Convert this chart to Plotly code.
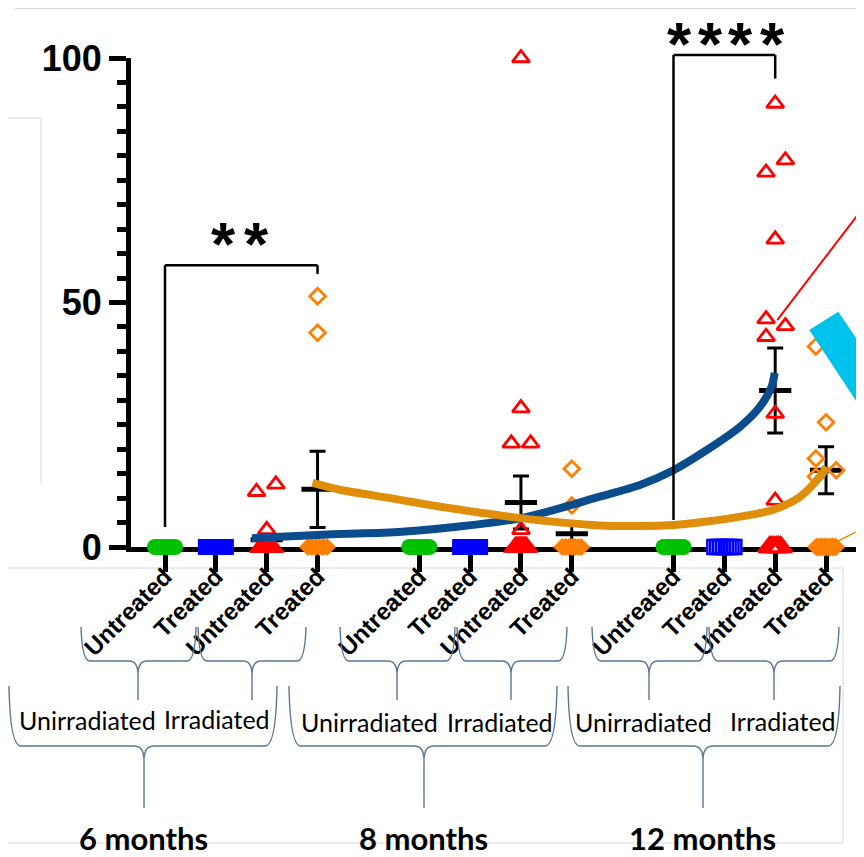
import plotly.graph_objects as go
import numpy as np

# ---------------- data ----------------
timepoints = ["6 months", "8 months", "12 months"]
irradiation = ["Unirradiated", "Irradiated"]
treatments = ["Untreated", "Treated"]

# Unirradiated / Untreated (green)
unirr_untreated_6m = [0, 0, 0, 0, 0, 0, 0, 0]
unirr_untreated_8m = [0, 0, 0, 0, 0, 0, 0, 0]
unirr_untreated_12m = [0, 0, 0, 0, 0, 0, 0, 0]
# Unirradiated / Treated (blue)
unirr_treated_6m = [0, 0, 0, 0, 0, 0, 0, 0]
unirr_treated_8m = [0, 0, 0, 0, 0, 0, 0, 0]
unirr_treated_12m = [0, 0, 0, 0, 0, 0, 0, 0]
# Irradiated / Untreated (red)
irr_untreated_6m = [12.8, 11.3, 3.5, 0, 0, 0, 0, 0, 0, 0, 0, 0, 0, 0, 0, 0, 0, 0]
irr_untreated_8m = [100, 28.4, 21.2, 21.2, 3.5, 0, 0, 0, 0, 0, 0, 0, 0, 0, 0, 0, 0, 0, 0]
irr_untreated_12m = [90.7, 79.1, 76.6, 62.9, 46.6, 45.2, 43.0, 27.3, 9.5, 0, 0, 0, 0, 0, 0]
# Irradiated / Treated (orange)
irr_treated_6m = [51.3, 43.8, 0, 0, 0, 0, 0, 0]
irr_treated_8m = [16.0, 8.5, 0, 0, 0, 0, 0, 0, 0]
irr_treated_12m = [41.0, 25.5, 18.1, 15.7, 14.4, 0, 0, 0, 0, 0, 0, 0, 0]

# mean and SEM of each group (order: time -> irradiation -> treatment)
group_means = [0, 0, 1.5, 11.8, 0, 0, 9.1, 2.7, 0, 0, 32.0, 15.7]
group_sems = [0, 0, 1.0, 7.8, 0, 0, 5.4, 1.9, 0, 0, 8.7, 4.8]

# hand-drawn trend curves
trend_blue_x = [1.71, 3.3, 4.66, 7.0, 8.55, 9.34, 10.0, 10.65, 11.31, 11.7, 11.93, 11.99]
trend_blue_y = [1.8, 2.6, 3.1, 5.9, 10.3, 12.7, 15.7, 19.8, 24.6, 28.7, 32.8, 35.6]
trend_orange_x = [2.9, 3.44, 4.43, 5.5, 7.0, 8.55, 9.34, 10.0, 10.65, 11.31, 11.96, 12.49, 12.88, 13.01]
trend_orange_y = [13.1, 11.7, 10.0, 8.1, 5.9, 4.4, 4.3, 4.5, 5.2, 6.2, 7.6, 10.3, 14.4, 16.4]

# significance brackets: (left group index, right group index, label)
significance = [(0, 3, "**"), (8, 10, "****")]

y_tick_values = [0, 50, 100]

groups = [
    unirr_untreated_6m, unirr_treated_6m, irr_untreated_6m, irr_treated_6m,
    unirr_untreated_8m, unirr_treated_8m, irr_untreated_8m, irr_treated_8m,
    unirr_untreated_12m, unirr_treated_12m, irr_untreated_12m, irr_treated_12m,
]

# ---------------- layout constants ----------------
# The page adds an 8px body margin, so the figure is drawn 8px smaller and all
# positions below are given in window pixels and shifted by OFF.
OFF = 8
W, H = 864 - OFF, 857 - OFF
PLOT_L, PLOT_T, PLOT_B = 131, 58, 547          # window pixels
ML, MR, MT, MB = PLOT_L - OFF, 0, PLOT_T - OFF, H - (PLOT_B - OFF)
X0PX, XSTEP = 165.0, 50.85          # window pixel of first category, pixels per category
XR = [(PLOT_L - X0PX) / XSTEP, (864 - X0PX) / XSTEP]
YR = [0, 100]
PW, PH = W - ML - MR, H - MT - MB


def px2p(px, py):
    return ((px - OFF) - ML) / PW, (H - MB - (py - OFF)) / PH


def d2p(x, y):
    return (x - XR[0]) / (XR[1] - XR[0]), (y - YR[0]) / (YR[1] - YR[0])


positions = []
labels = []
for t in range(3):
    for i in range(2):
        for tr in range(2):
            positions.append(t * 5 + i * 2 + tr)
            labels.append(treatments[tr])

GREEN, BLUE, RED, ORANGE = "#00C000", "#0000FF", "#FF0000", "#FF8000"
kind_color = [GREEN, BLUE, RED, ORANGE]
kind_symbol = ["circle", "square", "triangle-up", "diamond"]
zero_size = [16, 16, 22, 14]
zero_half_px = [10, 10, 5.5, 9.5]
point_size = [14, 14, 15, 12]
# zero clusters drawn solid at 6/8 months, outlined at 12 months
hatched_groups = {9: "hatch", 10: "hatch", 11: "open"}
# horizontal offsets of the non-zero points (category units)
JITTER = {
    2: [0.18, -0.2, 0],
    3: [0, 0],
    6: [0, 0, -0.19, 0.19, 0],
    7: [0, 0],
    10: [0, 0.2, -0.18, 0, -0.18, 0.2, -0.18, 0, 0],
    11: [-0.2, 0, -0.2, 0.2, -0.2],
}

fig = go.Figure()

# means with SEM
fig.add_trace(go.Scatter(
    x=positions, y=group_means, mode="markers", cliponaxis=False, showlegend=False,
    marker=dict(symbol="line-ew", size=23, color="black", line=dict(width=5, color="black")),
    error_y=dict(type="data", array=group_sems, visible=True, color="black", thickness=3, width=8),
))

for g, vals in enumerate(groups):
    k = g % 4
    xc = positions[g]
    zeros = [v for v in vals if v == 0]
    nonzero = [v for v in vals if v != 0]
    if zeros:
        n = len(zeros)
        hw = zero_half_px[k] / XSTEP
        xs = list(np.linspace(-hw, hw, n) + xc) if n > 1 else [xc]
        style = hatched_groups.get(g, "solid")
        if style == "solid":
            fig.add_trace(go.Scatter(
                x=xs, y=zeros, mode="markers", cliponaxis=False, showlegend=False,
                marker=dict(symbol=kind_symbol[k], size=zero_size[k], color=kind_color[k],
                            line=dict(width=0))))
        else:
            if style == "hatch":
                fig.add_trace(go.Scatter(
                    x=xs, y=zeros, mode="markers", cliponaxis=False, showlegend=False,
                    marker=dict(symbol=kind_symbol[k], size=zero_size[k], color="white",
                                line=dict(width=0))))
            fig.add_trace(go.Scatter(
                x=xs, y=zeros, mode="markers", cliponaxis=False, showlegend=False,
                marker=dict(symbol=kind_symbol[k] + "-open", size=zero_size[k] - 2,
                            color=kind_color[k], line=dict(width=2.5, color=kind_color[k]))))
    if nonzero:
        offs = JITTER.get(g, [0] * len(nonzero))
        fig.add_trace(go.Scatter(
            x=[xc + o for o in offs], y=nonzero, mode="markers", cliponaxis=False,
            showlegend=False,
            marker=dict(symbol=kind_symbol[k] + "-open", size=point_size[k], color=kind_color[k],
                        line=dict(width=2.8, color=kind_color[k]))))

# trend curves
fig.add_trace(go.Scatter(x=trend_blue_x, y=trend_blue_y, mode="lines", showlegend=False,
                         line=dict(color="#0B4C8C", width=8, shape="spline", smoothing=0.8)))
fig.add_trace(go.Scatter(x=trend_orange_x, y=trend_orange_y, mode="lines", showlegend=False,
                         line=dict(color="#DF8E0A", width=8, shape="spline", smoothing=0.8)))

shapes = []
annotations = []


def pline(p1, p2, color, width, layer="above"):
    shapes.append(dict(type="line", xref="paper", yref="paper",
                       x0=p1[0], y0=p1[1], x1=p2[0], y1=p2[1], layer=layer,
                       line=dict(color=color, width=width)))


def path_px(pts_cmds, color, width, fill=None):
    s = ""
    for cmd, pts in pts_cmds:
        s += cmd
        for (px, py) in pts:
            a, b = px2p(px, py)
            s += f" {a:.5f},{b:.5f}"
        s += " "
    d = dict(type="path", xref="paper", yref="paper", path=s.strip() + (" Z" if fill else ""),
             line=dict(color=color, width=width), layer="above")
    if fill:
        d["fillcolor"] = fill
    shapes.append(d)


# significance brackets
STAR_FONT = dict(family="Liberation Sans, Arial", size=62, color="black", weight="bold")
bracket_levels = {0: (4.1, 57.6, 55.8), 1: (5.5, 100.6, 95.8)}
star_px = {0: [223, 256], 1: [679, 710, 740, 772]}
star_y_px = {0: 236, 1: None}        # None: as high as the page allows
for j, (ga, gb, txt) in enumerate(significance):
    yl, yt, yr = bracket_levels[j]
    xa, xb = positions[ga], positions[gb]
    pts = [d2p(xa, yl), d2p(xa, yt), d2p(xb, yt), d2p(xb, yr)]
    for p1, p2 in zip(pts[:-1], pts[1:]):
        pline(p1, p2, "black", 2.5)
    for c, sx in zip(txt, star_px[j]):
        if star_y_px[j] is None:
            ax_ = px2p(sx, 0)[0]
            annotations.append(dict(text=c, x=ax_, y=1 + MT / PH, xref="paper", yref="paper",
                                    showarrow=False, xanchor="center", yanchor="top",
                                    borderpad=0, font=STAR_FONT))
        else:
            ax_, ay_ = px2p(sx, star_y_px[j])
            annotations.append(dict(text=c, x=ax_, y=ay_, xref="paper", yref="paper",
                                    showarrow=False, xanchor="center", yanchor="middle",
                                    yshift=-7, font=STAR_FONT))

# gray frame lines from the underlying composite
GRAY = "#D9D9D9"
for a, b in [((15, 8.5), (864, 8.5)), ((0, 118), (41, 118)), ((41, 118), (41, 484)),
             ((0, 568), (843, 568)), ((843, 568), (843, 843)), ((0, 843), (843, 843))]:
    pline(px2p(*a), px2p(*b), GRAY, 1, layer="below")

# curly braces
BR = "#587896"


def brace(xl, xr, xc, ytop, ymid, ytip, r, c):
    path_px([("M", [(xl, ytop)]), ("Q", [(xl + 1, ymid), (xl + r, ymid)]),
             ("L", [(xc - c, ymid)]), ("Q", [(xc, ymid), (xc, ymid + 14)]),
             ("L", [(xc, ytip)]), ("M", [(xc, ymid + 14)]),
             ("Q", [(xc, ymid), (xc + c, ymid)]), ("L", [(xr - r, ymid)]),
             ("Q", [(xr - 1, ymid), (xr, ytop)])], BR, 1.4)


for xl, xr, xc in [(81, 196, 138), (198, 306, 252), (340, 455, 397),
                   (457, 567, 511), (592, 707, 649), (709, 839, 774)]:
    brace(xl, xr, xc, 627, 661, 700, 9, 9)
for xl, xr, xc in [(9, 277, 144), (289, 557, 424), (568, 840, 703)]:
    brace(xl, xr, xc, 686, 746, 808, 12, 10)

# irradiation labels and time labels
irr_label_px = [(87.5, 720), (217, 719), (369, 722), (500, 722), (643.5, 722), (782.5, 721)]
for j, (px, py) in enumerate(irr_label_px):
    ax_, ay_ = px2p(px, py)
    annotations.append(dict(text=irradiation[j % 2], x=ax_, y=ay_, xref="paper", yref="paper",
                            showarrow=False, xanchor="center", yanchor="middle",
                            font=dict(family="Lato, Liberation Sans", size=25, color="black")))
time_label_px = [(143.5, 838), (423, 838), (702.5, 838)]
for j, (px, py) in enumerate(time_label_px):
    ax_, ay_ = px2p(px, py)
    annotations.append(dict(text=timepoints[j], x=ax_, y=ay_, xref="paper", yref="paper",
                            showarrow=False, xanchor="center", yanchor="middle", borderpad=0,
                            font=dict(family="Lato, Liberation Sans", size=31, color="black",
                                      weight="bold")))

# red pointer line, orange pointer line, cyan arrow (cropped parts of the composite)
pline(d2p(12.04, 46.4), d2p(XR[1], 69.6), RED, 2)
pline(d2p(13.08, 0.4), d2p(XR[1], 3.9), "#E08E0B", 1.5)
path_px([("M", [(809.3, 330)]), ("L", [(838.3, 311.7)]), ("L", [(910, 418)]),
         ("L", [(910, 446)]), ("L", [(858.3, 436.7)]), ("L", [(870, 422)])],
        "#00C3EC", 0, fill="#00C3EC")

fig.update_layout(
    width=W, height=H, margin=dict(l=ML, r=MR, t=MT, b=MB, pad=0),
    paper_bgcolor="white", plot_bgcolor="white",
    shapes=shapes, annotations=annotations, showlegend=False,
    xaxis=dict(range=XR, tickmode="array", tickvals=positions, ticktext=labels, tickangle=-45,
               ticks="outside", ticklen=20, tickwidth=4.5, tickcolor="black",
               ticklabelstandoff=-19,
               showline=True, linewidth=5, linecolor="black", showgrid=False, zeroline=False,
               layer="below traces",
               tickfont=dict(family="Liberation Sans, Arial", size=24, color="black",
                             weight="bold")),
    yaxis=dict(range=YR, tickmode="array", tickvals=y_tick_values,
               ticks="outside", ticklen=17, tickwidth=4.5, tickcolor="black",
               minor=dict(dtick=5, tick0=0, ticklen=9, tickwidth=4.5, tickcolor="black",
                          ticks="outside"),
               showline=True, linewidth=5, linecolor="black", showgrid=False, zeroline=False,
               layer="below traces",
               tickfont=dict(family="Liberation Sans, Arial", size=36, color="black",
                             weight="bold")),
)

fig.write_html("out.html")
